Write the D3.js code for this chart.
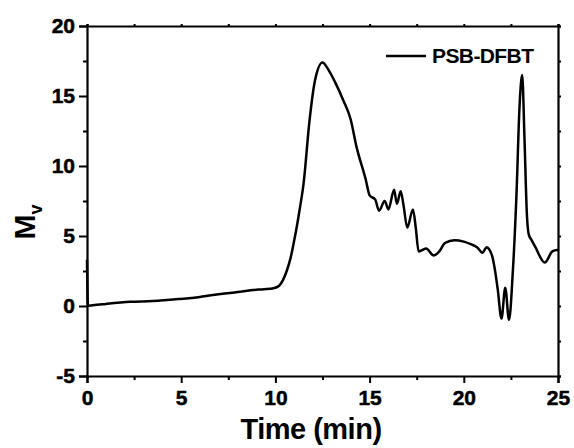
<!DOCTYPE html>
<html>
<head>
<meta charset="utf-8">
<style>
  body { margin: 0; background: #fff; }
  text { font-family: "Liberation Sans", Arial, sans-serif; font-weight: bold; }
</style>
</head>
<body>
<svg id="chart" width="574" height="448"></svg>
<script src="https://d3js.org/d3.v7.min.js"></script>
<script>

// GPC trace (time in min, Mv)
var times = [0, 0.05, 0.3, 1, 2.3, 3.5, 4.9, 6, 7.1, 8, 8.8, 9.4, 9.9, 10.2, 10.4, 10.6, 10.8, 11.0, 11.1, 11.3, 11.5, 11.8, 12.1, 12.5, 12.8, 13.2, 13.6, 14.0, 14.3, 14.8, 15.0, 15.3, 15.5, 15.8, 16.0, 16.3, 16.45, 16.65, 16.8, 17.0, 17.3, 17.45, 17.6, 17.8, 18.0, 18.4, 18.7, 19.0, 19.5, 20.0, 20.4, 20.7, 21.0, 21.2, 21.5, 21.65, 21.8, 22.0, 22.2, 22.4, 22.6, 22.8, 22.95, 23.1, 23.22, 23.35, 23.45, 23.6, 23.8, 24.3, 24.7, 24.95, 25];
var mv =    [3.3, 0.0, 0.05, 0.15, 0.3, 0.35, 0.5, 0.65, 0.86, 1.0, 1.14, 1.2, 1.27, 1.45, 1.85, 2.5, 3.4, 4.7, 5.4, 7.0, 8.8, 13.1, 16.1, 17.4, 16.9, 15.9, 14.7, 13.3, 11.4, 9.0, 7.9, 7.6, 6.8, 7.5, 6.9, 8.3, 7.3, 8.2, 7.2, 5.6, 6.9, 5.6, 3.9, 4.0, 4.1, 3.6, 3.9, 4.5, 4.7, 4.6, 4.4, 4.2, 3.8, 4.2, 3.6, 2.6, 1.2, -0.9, 1.3, -1.0, 2.4, 8.1, 14.0, 16.5, 12.0, 6.5, 5.1, 4.7, 4.2, 3.1, 3.9, 4.0, 4.0];

var xMajor = [0, 5, 10, 15, 20, 25];
var yMajor = [-5, 0, 5, 10, 15, 20];
var seriesName = "PSB-DFBT";

var svg = d3.select("#chart"),
    margin = {top: 26, right: 16, bottom: 72, left: 87},
    width = 574 - margin.left - margin.right,
    height = 448 - margin.top - margin.bottom,
    g = svg.append("g").attr("transform", "translate(" + margin.left + "," + margin.top + ")");

var x = d3.scaleLinear().domain([0, 25]).range([0, width]);
var y = d3.scaleLinear().domain([-5, 20]).range([height, 0]);

var xMinor = d3.range(2.5, 25, 5);
var yMinor = d3.range(-2.5, 20, 5);

var fmt = function(d) { return String(d); };  // plain hyphen for negatives

function styleAxis(sel, showDomain) {
  sel.attr("font-family", null);
  sel.select(".domain").attr("stroke-width", showDomain ? 2.2 : 0).attr("stroke", "#000");
  sel.selectAll(".tick line").attr("stroke-width", 2).attr("stroke", "#000");
  sel.selectAll("text").attr("font-size", 21).attr("font-weight", "bold").attr("fill", "#000")
    .attr("stroke", "#000").attr("stroke-width", 0.5);
}

// bottom
g.append("g").attr("transform", "translate(0," + height + ")")
  .call(d3.axisBottom(x).tickValues(xMajor).tickSize(7).tickPadding(7).tickFormat(fmt))
  .call(styleAxis, true);
g.append("g").attr("transform", "translate(0," + height + ")")
  .call(d3.axisBottom(x).tickValues(xMinor).tickSize(4).tickFormat(""))
  .call(styleAxis, false);

// left
g.append("g")
  .call(d3.axisLeft(y).tickValues(yMajor).tickSize(8).tickPadding(4).tickFormat(fmt))
  .call(styleAxis, true);
g.append("g")
  .call(d3.axisLeft(y).tickValues(yMinor).tickSize(4).tickFormat(""))
  .call(styleAxis, false);

// top and right mirrors
g.append("g")
  .call(d3.axisTop(x).tickValues(xMajor.concat(xMinor)).tickSize(2).tickFormat(""))
  .call(styleAxis, true);
g.append("g").attr("transform", "translate(" + width + ",0)")
  .call(d3.axisRight(y).tickValues(yMajor.concat(yMinor)).tickSize(3).tickFormat(""))
  .call(styleAxis, true);

var data = times.map(function(t, i) { return {t: t, v: mv[i]}; });

var line = d3.line()
    .x(function(d) { return x(d.t); })
    .y(function(d) { return y(d.v); })
    .curve(d3.curveMonotoneX);

g.append("path")
    .datum(data)
    .attr("fill", "none")
    .attr("stroke", "#000")
    .attr("stroke-width", 2.5)
    .attr("stroke-linejoin", "round")
    .attr("d", line);

// legend
svg.append("line")
    .attr("x1", 386).attr("x2", 426).attr("y1", 56).attr("y2", 56)
    .attr("stroke", "#000").attr("stroke-width", 2.5);
svg.append("text")
    .attr("x", 432).attr("y", 63)
    .attr("font-size", 21)
    .attr("letter-spacing", -0.6)
    .text(seriesName);

// axis titles
svg.append("text")
    .attr("x", 311).attr("y", 439)
    .attr("text-anchor", "middle")
    .attr("font-size", 29)
    .attr("letter-spacing", -0.5)
    .text("Time (min)");

var yTitle = svg.append("text")
    .attr("transform", "translate(35,222) rotate(-90)")
    .attr("text-anchor", "middle")
    .attr("font-size", 30);
yTitle.append("tspan").text("M");
yTitle.append("tspan").attr("font-size", 18).attr("dy", 7).text("v");

</script>
</body>
</html>
